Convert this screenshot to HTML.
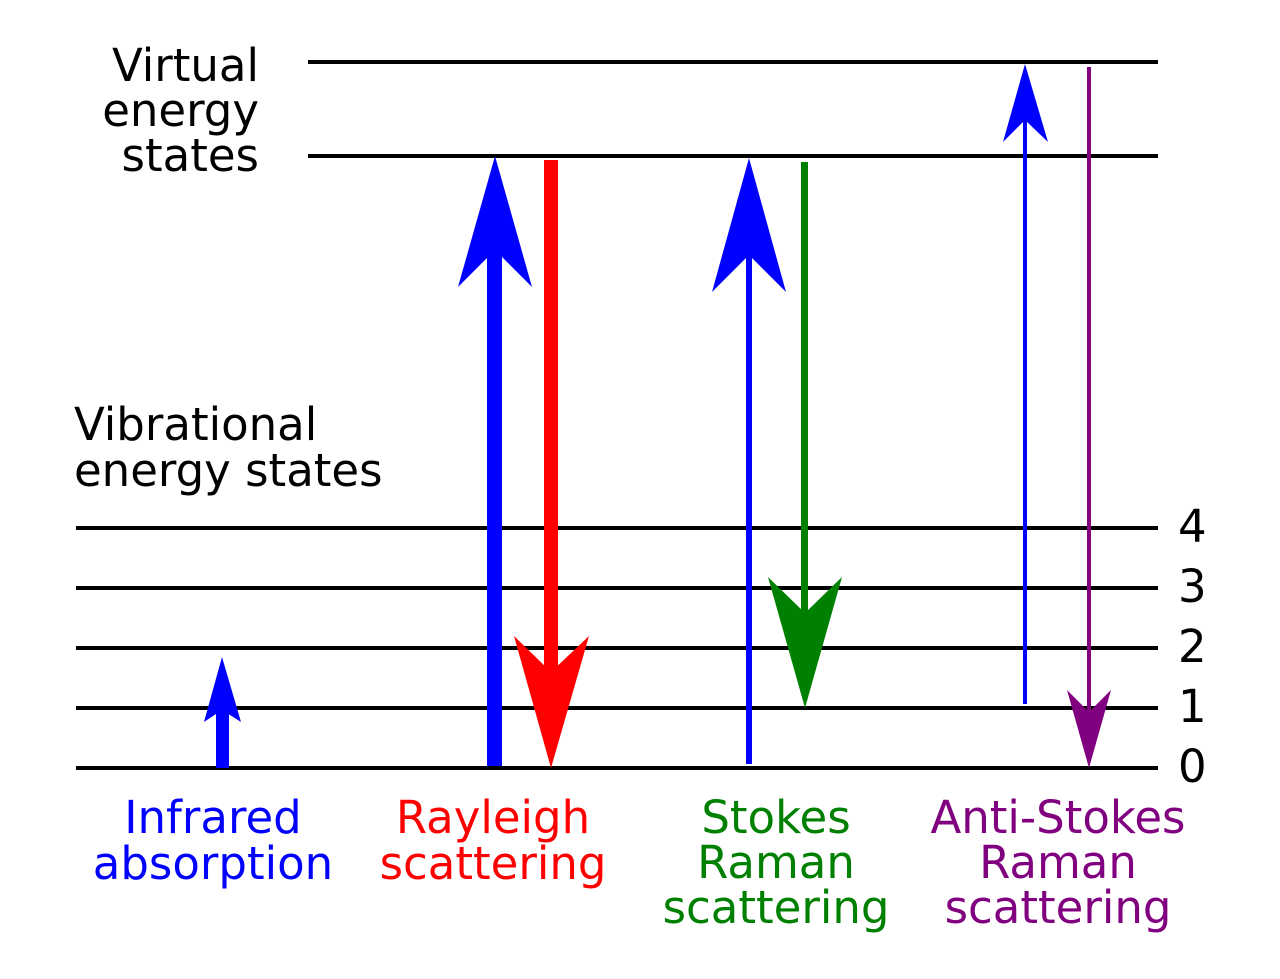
<!DOCTYPE html>
<html><head><meta charset="utf-8"><style>
html,body{margin:0;padding:0;background:#fff;}
svg{display:block;}
text{font-family:"DejaVu Sans","Liberation Sans",sans-serif;font-size:45px;}
</style></head><body>
<svg width="1280" height="979" viewBox="0 0 1280 979" xmlns="http://www.w3.org/2000/svg">
<g stroke="#000" stroke-width="4">
<line x1="308" y1="62" x2="1158" y2="62"/>
<line x1="308" y1="156" x2="1158" y2="156"/>
<line x1="76" y1="528" x2="1158" y2="528"/>
<line x1="76" y1="588" x2="1158" y2="588"/>
<line x1="76" y1="648" x2="1158" y2="648"/>
<line x1="76" y1="708" x2="1158" y2="708"/>
<line x1="76" y1="768" x2="1158" y2="768"/>
</g>
<g text-anchor="end" fill="#000">
<text x="259" y="81">Virtual</text>
<text x="259" y="126">energy</text>
<text x="259" y="171">states</text>
</g>
<text x="74" y="440">Vibrational</text>
<text x="74" y="486">energy states</text>
<g fill="#000" style="font-size:43px">
<text x="1178" y="542">4</text>
<text x="1178" y="602">3</text>
<text x="1178" y="662">2</text>
<text x="1178" y="722">1</text>
<text x="1178" y="782">0</text>
</g>
<g text-anchor="middle">
<text x="213" y="833" fill="#0000ff">Infrared</text>
<text x="213" y="879" fill="#0000ff">absorption</text>
<text x="493" y="833" fill="#ff0000">Rayleigh</text>
<text x="493" y="879" fill="#ff0000">scattering</text>
<text x="776" y="833" fill="#008000">Stokes</text>
<text x="776" y="878" fill="#008000">Raman</text>
<text x="776" y="923" fill="#008000">scattering</text>
<text x="1058" y="833" fill="#800080">Anti-Stokes</text>
<text x="1058" y="878" fill="#800080">Raman</text>
<text x="1058" y="923" fill="#800080">scattering</text>
</g>
<rect x="216" y="700" width="13" height="68" fill="#0000ff"/>
<polygon points="222,657 241,722 222,710 204,722" fill="#0000ff"/>
<rect x="487" y="240" width="15" height="526" fill="#0000ff"/>
<polygon points="495,156 532,287 495,250 458,287" fill="#0000ff"/>
<rect x="544" y="160" width="14" height="520" fill="#ff0000"/>
<polygon points="551,768 589,636 551,672 514,636" fill="#ff0000"/>
<rect x="746" y="240" width="6" height="524" fill="#0000ff"/>
<polygon points="749,158 786,292 749,255 712,292" fill="#0000ff"/>
<rect x="801" y="162" width="7" height="460" fill="#008000"/>
<polygon points="805,708 842,577 805,613 768,577" fill="#008000"/>
<rect x="1023" y="110" width="4" height="594" fill="#0000ff"/>
<polygon points="1025,64 1048,142 1025,120 1003,142" fill="#0000ff"/>
<rect x="1087" y="67" width="4" height="660" fill="#800080"/>
<polygon points="1089,768 1111,690 1089,712 1067,690" fill="#800080"/>
</svg>
</body></html>
